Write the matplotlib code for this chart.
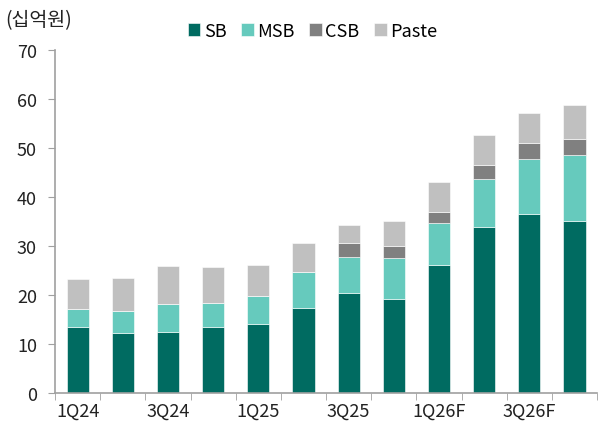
import numpy as np
import matplotlib
matplotlib.use("Agg")
import matplotlib.pyplot as plt

plt.rcParams['font.family'] = ['Noto Sans CJK KR', 'DejaVu Sans']

quarters = ['1Q24', '2Q24', '3Q24', '4Q24', '1Q25', '2Q25', '3Q25', '4Q25',
            '1Q26F', '2Q26F', '3Q26F', '4Q26F']
sb = [13.5, 12.2, 12.4, 13.5, 14.1, 17.4, 20.4, 19.2, 26.2, 33.9, 36.6, 35.2]
msb = [3.7, 4.6, 5.8, 4.9, 5.6, 7.2, 7.3, 8.3, 8.5, 9.8, 11.2, 13.3]
csb = [0, 0, 0, 0, 0, 0, 3.0, 2.4, 2.2, 2.9, 3.3, 3.3]
paste = [6.0, 6.7, 7.7, 7.3, 6.5, 6.1, 3.6, 5.3, 6.2, 6.1, 6.1, 7.0]

colors = ['#006B61', '#66CABD', '#808080', '#C0C0C0']
names = ['SB', 'MSB', 'CSB', 'Paste']

fig = plt.figure(figsize=(5.99, 4.27), dpi=100)
ax = fig.add_axes([0.0918, 0.0773, 0.905, 0.8033])

x = np.arange(len(quarters))
bottom = np.zeros(len(quarters))
for vals, c, n in zip([sb, msb, csb, paste], colors, names):
    ax.bar(x, vals, 0.49, bottom=bottom, color=c, label=n,
           edgecolor='white', linewidth=0.4)
    bottom += np.array(vals)

ax.set_xlim(-0.5, len(quarters) - 0.5)
ax.set_ylim(0, 70)
ax.set_yticks(range(0, 71, 10))
ax.set_xticks(x[::2])
ax.set_xticklabels(quarters[::2])
ax.set_xticks(np.arange(-0.5, len(quarters), 1), minor=True)
ax.tick_params(axis='x', which='major', length=0, pad=6, labelsize=13, colors='#222222')
ax.tick_params(axis='x', which='minor', length=5, color='#A0A0A0', direction='out')
ax.tick_params(axis='y', length=5, labelsize=13, pad=8, colors='#A0A0A0', labelcolor='#222222')
for s in ['top', 'right']:
    ax.spines[s].set_visible(False)
for s in ['left', 'bottom']:
    ax.spines[s].set_color('#A0A0A0')
    ax.spines[s].set_linewidth(1.2)

fig.text(0.008, 0.952, '(십억원)', fontsize=14, color='#222222', va='center')
ax.legend(loc='center', bbox_to_anchor=(0.475, 1.055), ncol=4, frameon=False,
          fontsize=13, handlelength=0.7, handleheight=0.7, handletextpad=0.2,
          columnspacing=0.8)

fig.savefig('out.png', dpi=100)
